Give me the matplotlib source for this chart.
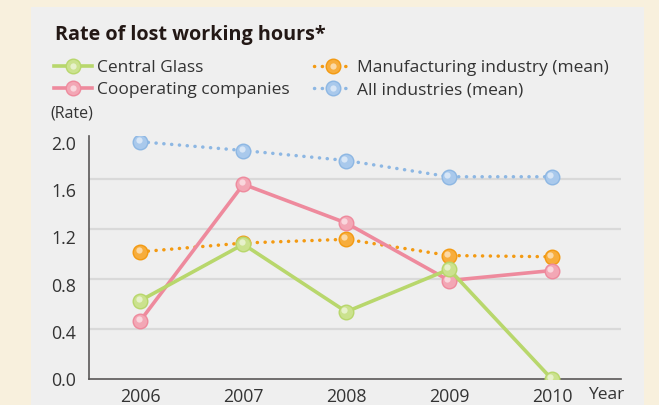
import numpy as np
import matplotlib
matplotlib.use("Agg")
import matplotlib.pyplot as plt
import matplotlib.transforms as mtransforms
from matplotlib.patches import Rectangle
from matplotlib.legend_handler import HandlerTuple

plt.rcParams["font.family"] = ["Open Sans", "DejaVu Sans"]

# ------------------------------------------------------------
# Datos
# ------------------------------------------------------------
years = [2006, 2007, 2008, 2009, 2010]
central_glass = [0.63, 1.08, 0.54, 0.88, 0.00]
cooperating = [0.47, 1.56, 1.25, 0.79, 0.87]
manufacturing = [1.02, 1.09, 1.12, 0.99, 0.98]
all_industries = [1.90, 1.83, 1.75, 1.62, 1.62]

grid_values = [0.4, 0.8, 1.2, 1.6]
ytick_values = [0.0, 0.4, 0.8, 1.2, 1.6, 2.0]
ytick_labels = ["0.0", "0.4", "0.8", "1.2", "1.6", "2.0"]

series = [
    # label, values, line color, marker face, style
    ("All industries (mean)", all_industries, "#8db7e3", "#a9c9ec", "dot"),
    ("Manufacturing industry (mean)", manufacturing, "#f39a12", "#f7ad3c", "dot"),
    ("Cooperating companies", cooperating, "#ee8a9d", "#f3a7b5", "solid"),
    ("Central Glass", central_glass, "#b8d76c", "#cbe28e", "solid"),
]

# ------------------------------------------------------------
# Figura
# ------------------------------------------------------------
W, H = 659, 405
fig = plt.figure(figsize=(W / 100, H / 100), dpi=100)
fig.patch.set_facecolor("#f8f0dd")
fig.patches.append(Rectangle((31 / W, 0), (644 - 31) / W, 1 - 7 / H,
                             transform=fig.transFigure, facecolor="#efefef",
                             edgecolor="none", zorder=-10))

ax = fig.add_axes([89 / W, 1 - 379.3 / H, (621 - 89) / W, (379.3 - 136) / H])
ax.set_facecolor("none")
ax.set_xlim(2005.5, 2010.67)
ax.set_ylim(0, 1.946)

for g in grid_values:
    ax.axhline(g, color="#d9d9d9", lw=1.6, zorder=1)

handles = {}
hl_offset = mtransforms.offset_copy(ax.transData, fig=fig, x=-1.3, y=1.3, units="points")
for label, vals, col, face, style in series:
    if style == "dot":
        ls = (0, (0.05, 2.2))
        lw = 2.5
    else:
        ls = "-"
        lw = 2.6
    ln, = ax.plot(years, vals, color=col, lw=lw, ls=ls, dash_capstyle="round",
                  marker="o", ms=10.5, mfc=face, mec=col, mew=1.0, zorder=3)
    hl, = ax.plot(years, vals, ls="none", marker="o", ms=4.5, mfc="white",
                  mec="none", alpha=0.55, transform=hl_offset, zorder=3)
    handles[label] = (ln, hl)

for s in ["top", "right"]:
    ax.spines[s].set_visible(False)
for s in ["left", "bottom"]:
    ax.spines[s].set_color("#595757")
    ax.spines[s].set_linewidth(1.2)

ax.set_xticks(years)
ax.set_xticklabels([str(y) for y in years])
# las etiquetas del eje Y en el original están un poco comprimidas respecto a la rejilla
ax.set_yticks(np.array(ytick_values) * 0.946)
ax.set_yticklabels(ytick_labels)
ax.tick_params(axis="both", length=0, labelsize=12.8, colors="#333333")
ax.tick_params(axis="x", pad=6)
ax.tick_params(axis="y", pad=9)

# ------------------------------------------------------------
# Textos
# ------------------------------------------------------------
fig.text(55 / W, 1 - 35 / H, "Rate of lost working hours*", fontsize=14.2,
         fontweight="bold", color="#231815", ha="left", va="center")
fig.text(50 / W, 1 - 114 / H, "(Rate)", fontsize=11.5, color="#333333",
         ha="left", va="center")
fig.text(588 / W, 1 - 395 / H, "Year", fontsize=12.5, color="#333333",
         ha="left", va="center")

order = ["Central Glass", "Cooperating companies",
         "Manufacturing industry (mean)", "All industries (mean)"]
leg = fig.legend([handles[k] for k in order], order, ncol=2,
                 loc="upper left", bbox_to_anchor=(38 / W, 1 - 44 / H),
                 frameon=False, fontsize=12.5, handlelength=2.2,
                 handletextpad=0.3, columnspacing=1.4, labelspacing=0.35,
                 handler_map={tuple: HandlerTuple(ndivide=1)})
for t in leg.get_texts():
    t.set_color("#333333")

fig.savefig("out.png", dpi=100, facecolor=fig.get_facecolor())
